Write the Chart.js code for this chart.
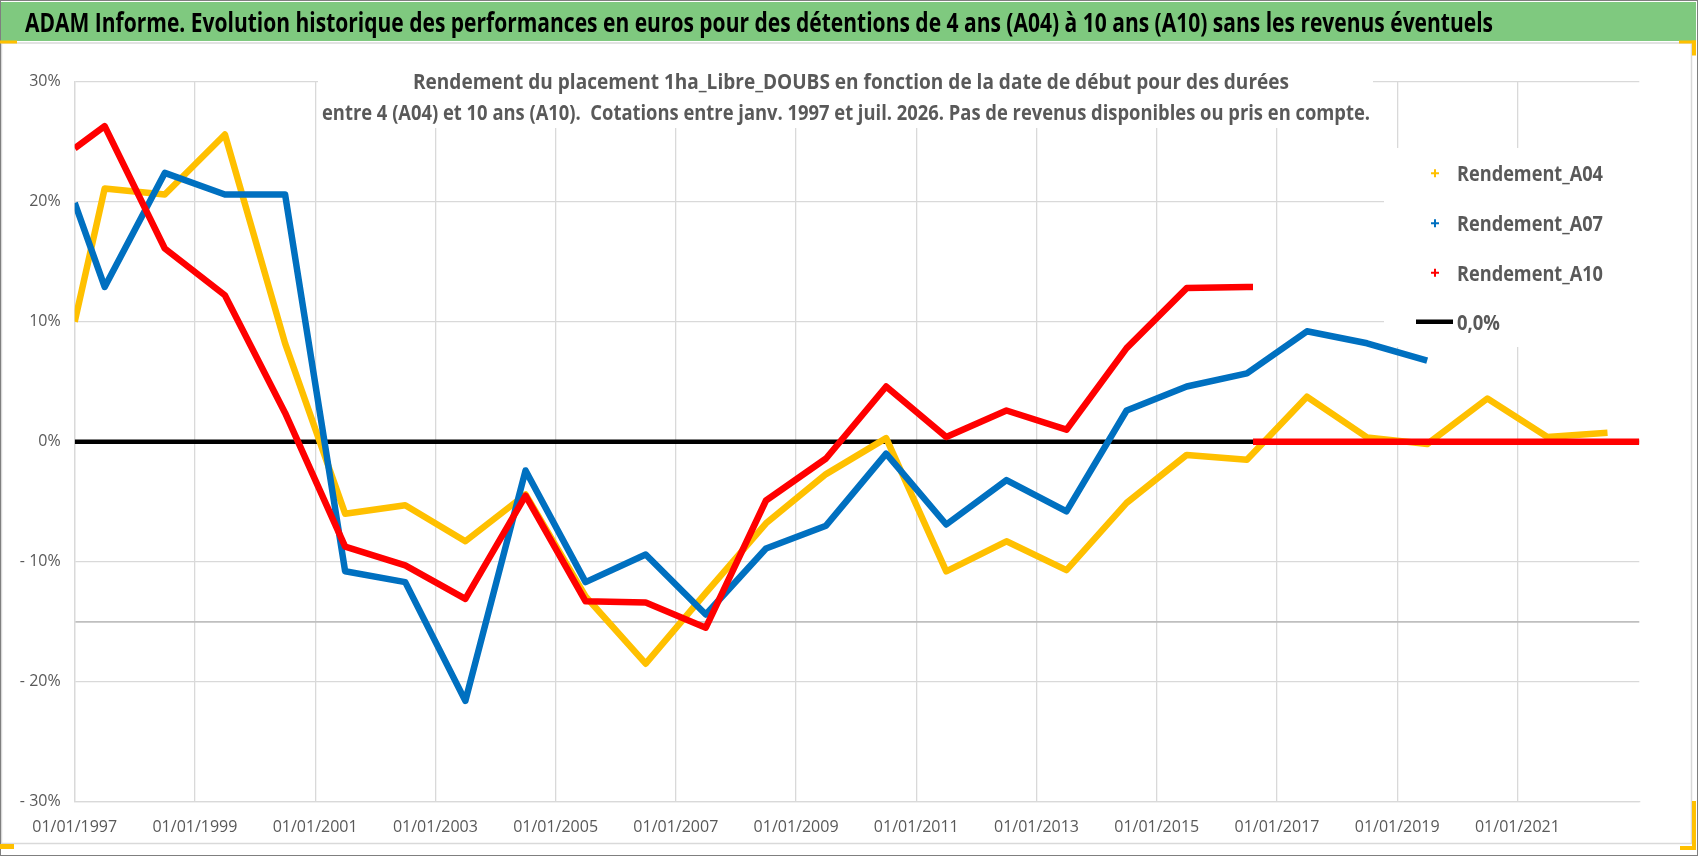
<!DOCTYPE html>
<html lang="fr">
<head>
<meta charset="utf-8">
<title>ADAM Informe - 1ha_Libre_DOUBS</title>
<script src="https://cdn.jsdelivr.net/npm/chart.js@4.4.1/dist/chart.umd.min.js"></script>
<style>
  html, body { margin: 0; padding: 0; background: #fff; }
  #cadre { position: relative; width: 1698px; height: 856px; }
</style>
</head>
<body>
<div id="cadre"><canvas id="graphique"></canvas></div>
<script>
const titre = "ADAM Informe. Evolution historique des performances en euros pour des détentions de 4 ans (A04) à 10 ans (A10) sans les revenus éventuels";
const sousTitre1 = "Rendement du placement 1ha_Libre_DOUBS en fonction de la date de début pour des durées";
const sousTitre2 = "entre 4 (A04) et 10 ans (A10).  Cotations entre janv. 1997 et juil. 2026. Pas de revenus disponibles ou pris en compte.";

// dates de début (une cotation par an, en juillet)
const datesDebut = [
  '1997-01-01', '1997-07-02', '1998-07-02', '1999-07-02', '2000-07-02', '2001-07-02',
  '2002-07-02', '2003-07-02', '2004-07-02', '2005-07-02', '2006-07-02', '2007-07-02',
  '2008-07-02', '2009-07-02', '2010-07-02', '2011-07-02', '2012-07-02', '2013-07-02',
  '2014-07-02', '2015-07-02', '2016-07-02', '2017-07-02', '2018-07-02', '2019-07-02',
  '2020-07-02', '2021-07-02', '2022-07-02'
];

// rendements en %
const rendementA04 = [
  10.0, 21.1, 20.6, 25.6, 8.2, -6.0, -5.3, -8.3, -4.4, -12.9, -18.5, -12.6,
  -6.8, -2.7, 0.3, -10.8, -8.3, -10.7, -5.1, -1.1, -1.5, 3.75, 0.36, -0.2,
  3.6, 0.4, 0.75
];
const rendementA07 = [
  19.9, 12.9, 22.4, 20.6, 20.6, -10.8, -11.7, -21.6, -2.4, -11.7, -9.4, -14.4,
  -8.9, -7.0, -1.0, -6.9, -3.2, -5.8, 2.6, 4.6, 5.7, 9.2, 8.2, 6.75
];
const datesA10 = datesDebut.slice(0, 21).concat(['2016-08-08']);
const rendementA10 = [
  24.45, 26.3, 16.1, 12.2, 2.4, -8.75, -10.3, -13.1, -4.5, -13.3, -13.4, -15.5,
  -4.9, -1.4, 4.6, 0.4, 2.6, 1.0, 7.8, 12.8, 12.9, 12.9
];
// A10 non calculable après août 2016 : valeurs à 0
const datesA10Nulle = ['2016-08-08', '2023-01-11'];
const valeursA10Nulle = [0, 0];

const datesZero = ['1997-01-01', '2023-01-11'];
const valeursZero = [0, 0];

const graduationsX = [
  '01/01/1997', '01/01/1999', '01/01/2001', '01/01/2003', '01/01/2005', '01/01/2007',
  '01/01/2009', '01/01/2011', '01/01/2013', '01/01/2015', '01/01/2017', '01/01/2019', '01/01/2021'
];
const graduationsY = [-30, -20, -10, 0, 10, 20, 30];
const ligneRepere = -15;

function versAnnee(iso) {
  const d = new Date(iso + 'T00:00:00Z');
  const an = d.getUTCFullYear();
  const debut = Date.UTC(an, 0, 1);
  const fin = Date.UTC(an + 1, 0, 1);
  return an + (d.getTime() - debut) / (fin - debut);
}

function frVersIso(fr) {
  const [j, m, a] = fr.split('/');
  return `${a}-${m}-${j}`;
}

function points(dates, valeurs) {
  return valeurs.map((v, i) => ({ x: versAnnee(dates[i]), y: v }));
}

const policeGrad = { family: "'Open Sans', 'Noto Sans', sans-serif", size: 16 };
const grisTexte = '#595959';
const grisGrille = '#d9d9d9';

// décor : bandeau vert, cadre, titres, légende
const decor = {
  id: 'decor',
  beforeDraw(chart) {
    const ctx = chart.ctx;
    const W = chart.width, H = chart.height;
    ctx.save();
    ctx.fillStyle = '#fff';
    ctx.fillRect(0, 0, W, H);
    ctx.fillStyle = '#7fc97f';
    ctx.fillRect(1, 2, W - 3, 39);
    ctx.strokeStyle = grisGrille;
    ctx.lineWidth = 1.5;
    ctx.strokeRect(1.5, 43, 1690, 800.5);
    ctx.strokeStyle = '#7f7f7f';
    ctx.lineWidth = 2;
    ctx.strokeRect(0, 0, W, H);
    ctx.restore();
  },
  beforeDatasetsDraw(chart) {
    const ctx = chart.ctx;
    ctx.save();
    ctx.fillStyle = '#fff';
    ctx.fillRect(318, 58, 1055, 70);
    ctx.fillRect(1384, 148, 257, 199);
    ctx.restore();
  },
  afterDraw(chart) {
    const ctx = chart.ctx;
    ctx.save();
    ctx.textBaseline = 'alphabetic';

    ctx.fillStyle = '#000';
    ctx.textAlign = 'left';
    ctx.font = "bold 26px 'Open Sans', sans-serif";
    ctx.fillText(titre, 25, 32, 1468);

    ctx.fillStyle = grisTexte;
    ctx.textAlign = 'center';
    ctx.font = "bold 21px 'Open Sans', sans-serif";
    ctx.fillText(sousTitre1, 851, 89, 876);
    ctx.fillText(sousTitre2, 846, 120, 1048);

    // légende
    const yLeg = [173.3, 223.3, 272.7, 321.7];
    ctx.textAlign = 'left';
    ctx.font = "bold 22px 'Open Sans', sans-serif";
    chart.data.datasets.forEach((ds, i) => {
      const y = yLeg[i];
      ctx.strokeStyle = ds.borderColor;
      if (ds.marqueur) {
        ctx.lineWidth = 2;
        ctx.beginPath();
        ctx.moveTo(1431, y); ctx.lineTo(1439, y);
        ctx.moveTo(1435, y - 4); ctx.lineTo(1435, y + 4);
        ctx.stroke();
      } else {
        ctx.lineWidth = 4.5;
        ctx.beginPath();
        ctx.moveTo(1416, y); ctx.lineTo(1453, y);
        ctx.stroke();
      }
      ctx.fillStyle = grisTexte;
      ctx.fillText(ds.label, 1457, y + 8, ds.marqueur ? 146 : 43);
    });

    // poignées de sélection
    ctx.fillStyle = '#ffc000';
    ctx.fillRect(0, 40.5, 17, 3);
    ctx.fillRect(1679, 40.5, 17, 3);
    ctx.fillRect(1692, 40.5, 4, 15);
    ctx.fillRect(1692, 801, 4, 49);
    ctx.fillRect(1680, 846, 16, 4);
    ctx.fillRect(0, 844, 14, 5);
    ctx.restore();
  }
};

const ligneA10 = points(datesA10, rendementA10)
  .concat([{ x: versAnnee(datesA10Nulle[0]), y: null }])
  .concat(points(datesA10Nulle, valeursA10Nulle));

const ctx = document.getElementById('graphique').getContext('2d');
const chart = new Chart(ctx, {
  type: 'line',
  data: {
    datasets: [
      { label: 'Rendement_A04', data: points(datesDebut, rendementA04), borderColor: '#FFC000', marqueur: true, order: 2 },
      { label: 'Rendement_A07', data: points(datesDebut, rendementA07), borderColor: '#0070C0', marqueur: true, order: 1 },
      { label: 'Rendement_A10', data: ligneA10, borderColor: '#FF0000', marqueur: true, order: 0 },
      { label: '0,0%', data: points(datesZero, valeursZero), borderColor: '#000000', borderWidth: 4.5, marqueur: false, order: 3 }
    ]
  },
  options: {
    responsive: true,
    maintainAspectRatio: false,
    animation: false,
    events: [],
    spanGaps: false,
    layout: { padding: { left: 14.7, top: 81.7, right: 58.7, bottom: 14.3 } },
    elements: {
      point: { radius: 0 },
      line: { borderWidth: 6.5, tension: 0, borderJoinStyle: 'round', fill: false }
    },
    plugins: {
      legend: { display: false },
      tooltip: { enabled: false },
      title: { display: false }
    },
    scales: {
      x: {
        type: 'linear',
        min: versAnnee('1997-01-01'),
        max: versAnnee('2023-01-11'),
        afterBuildTicks: s => { s.ticks = graduationsX.map(t => ({ value: versAnnee(frVersIso(t)) })); },
        afterFit: s => { s.height = 40; },
        grid: { color: grisGrille, lineWidth: 1.3, drawTicks: false },
        border: { color: grisGrille, width: 1.3 },
        ticks: {
          padding: 16, maxRotation: 0, autoSkip: false,
          color: grisTexte, font: policeGrad,
          callback: (v, i) => graduationsX[i]
        }
      },
      y: {
        min: -30,
        max: 30,
        afterBuildTicks: s => {
          s.ticks = graduationsY.concat([ligneRepere]).sort((a, b) => a - b).map(v => ({ value: v }));
        },
        afterFit: s => { s.width = 60; },
        grid: {
          color: c => (c.tick && c.tick.value === ligneRepere) ? '#bfbfbf' : grisGrille,
          lineWidth: c => (c.tick && c.tick.value === ligneRepere) ? 1.8 : 1.3,
          drawTicks: false
        },
        border: { color: grisGrille, width: 1.3 },
        ticks: {
          padding: 14, autoSkip: false,
          color: grisTexte, font: policeGrad,
          callback: v => v === ligneRepere ? '' : (v < 0 ? '- ' + (-v) + '%' : v + '%')
        }
      }
    }
  },
  plugins: [decor]
});
</script>
</body>
</html>
